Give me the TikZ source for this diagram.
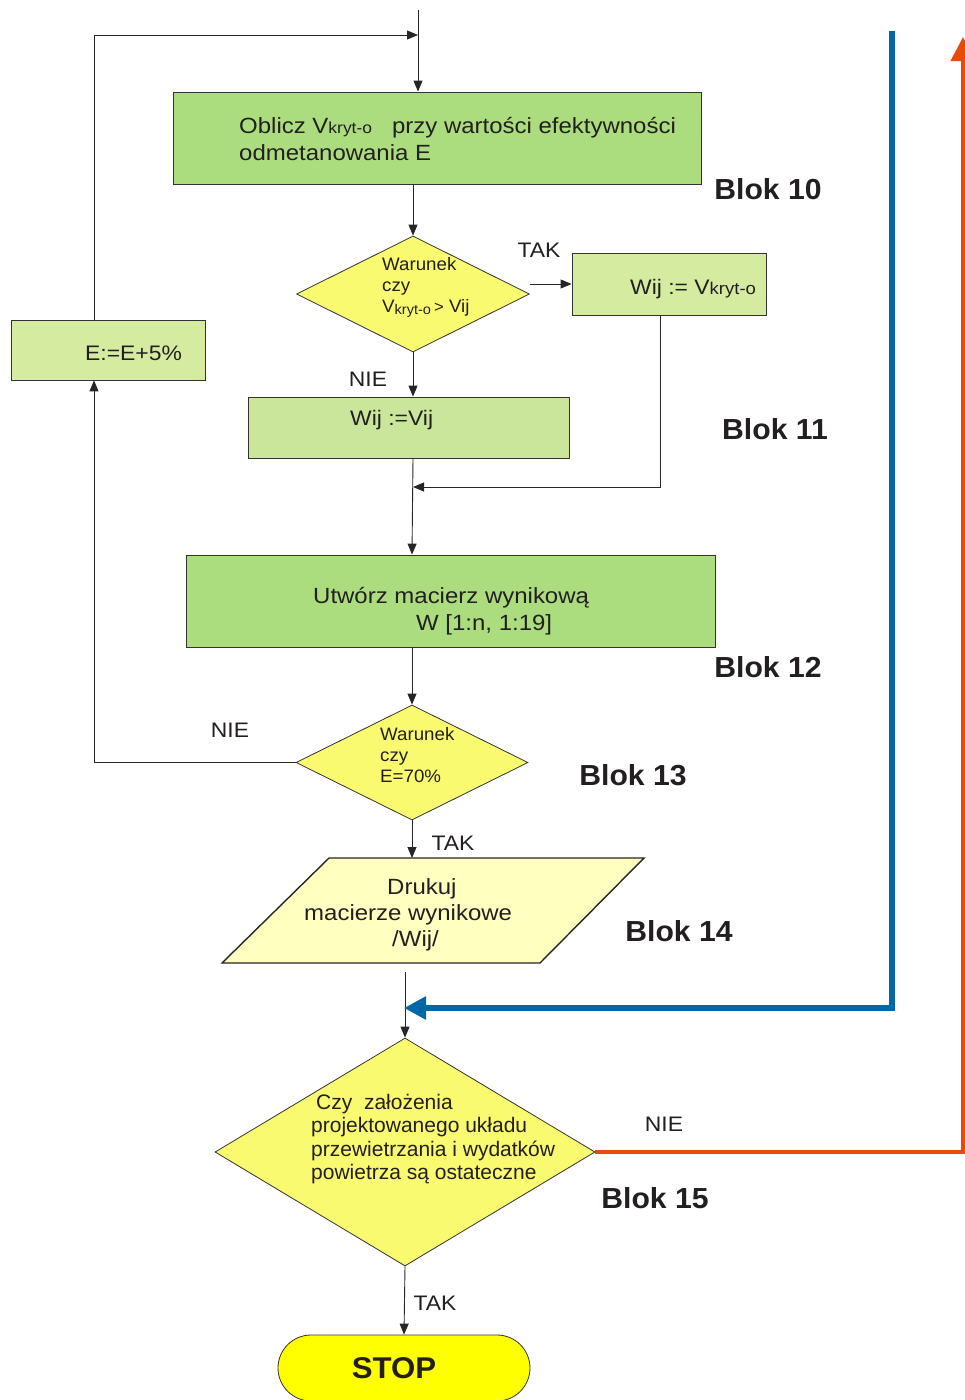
\documentclass[tikz,border=0pt]{standalone}
\usepackage{fontspec}
\setmainfont{Liberation Sans}
\newfontfamily\wfont[FakeStretch=1.09]{Liberation Sans}
\newfontfamily\mfont[FakeStretch=1.04]{Liberation Sans}
\usetikzlibrary{arrows.meta,shapes.geometric,calc}
\definecolor{gboxc}{HTML}{ABDC7D}
\definecolor{lgboxc}{HTML}{D5EBA0}
\definecolor{lgboxb}{HTML}{C9E69A}
\definecolor{ydia}{HTML}{FAFA70}
\definecolor{ypar}{HTML}{FFFFC0}
\definecolor{ystop}{HTML}{FFFF00}
\definecolor{txtc}{HTML}{231F20}
\definecolor{bluec}{RGB}{0,104,168}
\definecolor{orac}{RGB}{232,74,8}
\definecolor{edgec}{HTML}{333333}
\begin{document}
\begin{tikzpicture}[x=1pt,y=-1pt,
  every node/.style={text=txtc},
  box/.style={draw=edgec, line width=0.8pt, rectangle, inner sep=0pt},
  dia/.style={draw=edgec, line width=0.8pt, diamond, fill=ydia, inner sep=0pt},
  txt/.style={font=\wfont\fontsize{22}{27}\selectfont, inner sep=0pt},
  dtxt/.style={font=\mfont\fontsize{18}{21}\selectfont, inner sep=0pt, align=left},
  lbl/.style={font=\wfont\fontsize{21}{24}\selectfont, inner sep=0pt},
  blok/.style={font=\mfont\fontsize{29}{32}\selectfont\bfseries, inner sep=0pt},
  arr/.style={draw=black!85, line width=0.9pt, -{Triangle[length=11pt,width=9pt]}},
  ln/.style={draw=black!85, line width=0.9pt}
]
\useasboundingbox (0,0) rectangle (965,1400);

% nodes
\node[box, fill=gboxc, minimum width=528pt, minimum height=92pt] (b10) at (437,138) {};
\node[txt, anchor=west, align=left] (t10) at (239,139) {Oblicz V{\fontsize{16}{16}\selectfont kryt-o}\ \ \ przy wartości efektywności\\odmetanowania E};

\node[dia, minimum width=233pt, minimum height=116pt] (d1) at (413,294) {};
\node[dtxt, anchor=west] (t11) at (382,287) {Warunek\\czy\\V\raisebox{-2pt}{\fontsize{14}{14}\selectfont kryt-o}\,{\fontsize{16}{16}\selectfont >} Vij};

\node[box, fill=lgboxc, minimum width=194pt, minimum height=62pt] (bt) at (669,284) {};
\node[txt, anchor=west, font=\wfont\fontsize{21}{24}\selectfont] (tbt) at (630,289) {Wij := V{\fontsize{17}{17}\selectfont kryt-o}};

\node[box, fill=lgboxb, minimum width=321pt, minimum height=61pt] (bn) at (408.5,427.5) {};
\node[txt, anchor=west, font=\wfont\fontsize{21}{24}\selectfont] (tbn) at (350,420) {Wij :=Vij};

\node[box, fill=lgboxc, minimum width=194pt, minimum height=60pt] (eb) at (108,350) {};
\node[txt, anchor=west, font=\wfont\fontsize{21}{24}\selectfont] (teb) at (85,353) {E:=E+5\%};

\node[box, fill=gboxc, minimum width=529pt, minimum height=92pt] (b12) at (450.5,601) {};
\node[txt, anchor=west, align=left] (t12) at (313,611) {Utwórz macierz wynikową\\\hspace*{103pt}W [1:n, 1:19]};

\node[dia, minimum width=232pt, minimum height=115pt] (d2) at (412,762.5) {};
\node[dtxt, anchor=west] (t13) at (380,755) {Warunek\\czy\\E=70\%};

\fill[ypar, draw=black!85, line width=1.4pt] (329,858) -- (644,858) -- (540,963) -- (222,963) -- cycle;
\node[txt, anchor=west, align=left, font=\wfont\fontsize{22}{26}\selectfont] (p14) at (304,915) {\hspace*{83pt}Drukuj\\macierze wynikowe\\\hspace*{88pt}/Wij/};
\coordinate (p14top) at (412,858);
\coordinate (p14bot) at (405,972);

\node[dia, minimum width=380pt, minimum height=228pt] (d3) at (405,1152) {};
\node[txt, anchor=west, align=left, font=\fontsize{21}{23.5}\selectfont] (t15) at (311,1139) {\hspace*{5pt}Czy\ \ założenia\\projektowanego układu\\przewietrzania i wydatków\\powietrza są ostateczne};

\node[draw=edgec, line width=0.8pt, fill=ystop, rectangle, rounded corners=33pt, minimum width=252pt, minimum height=66pt, inner sep=0pt] (stop) at (404,1368) {};
\node[inner sep=0pt, font=\mfont\fontsize{30}{32}\selectfont\bfseries] (stoptxt) at (394,1368) {STOP};

% labels
\node[lbl] (l1) at (539,250) {TAK};
\node[lbl] (l2) at (368,379) {NIE};
\node[lbl] (l3) at (230,730) {NIE};
\node[lbl] (l4) at (453,843) {TAK};
\node[lbl] (l5) at (664,1124) {NIE};
\node[lbl] (l6) at (435,1303) {TAK};

\node[blok] (k10) at (768,189) {Blok 10};
\node[blok] (k11) at (775,429) {Blok 11};
\node[blok] (k12) at (768,667) {Blok 12};
\node[blok] (k13) at (633,775) {Blok 13};
\node[blok] (k14) at (679,931) {Blok 14};
\node[blok] (k15) at (655,1198) {Blok 15};

% connectors
\coordinate (top) at (418,10);
\coordinate (join) at (418,35);
\coordinate (j2) at (413,487);
\coordinate (bluetop) at (892,31);
\coordinate (bluej) at (404,1008);
\coordinate (oratop) at (963,37);

\draw[arr] (top) -- (top |- b10.north);
\draw[arr] ([xshift=-14pt]eb.north) |- (join);
\draw[arr] (b10.south -| d1.north) -- (d1.north);
\draw[arr] (d1.east |- bt.west) -- (bt.west);
\draw[arr] ([xshift=-9pt]bt.south) |- (j2);
\draw[arr] (d1.south) -- (d1.south |- bn.north);
\draw[arr] (bn.south -| d1.south) -- (b12.north -| d2.north);
\draw[arr] (b12.south -| d2.north) -- (d2.north);
\draw[arr] (d2.west) -| ([xshift=-14pt]eb.south);
\draw[arr] (d2.south) -- (p14top);
\draw[arr] (p14bot) -- (d3.north);
\draw[arr] (d3.south) -- (stop.north);
\draw[draw=bluec, line width=5.5pt, -{Triangle[length=22pt,width=22pt]}] (bluetop) |- (bluej);
\draw[draw=orac, line width=4pt, -{Triangle[length=24pt,width=24pt]}] (d3.east) -| (oratop);
\end{tikzpicture}
\end{document}
